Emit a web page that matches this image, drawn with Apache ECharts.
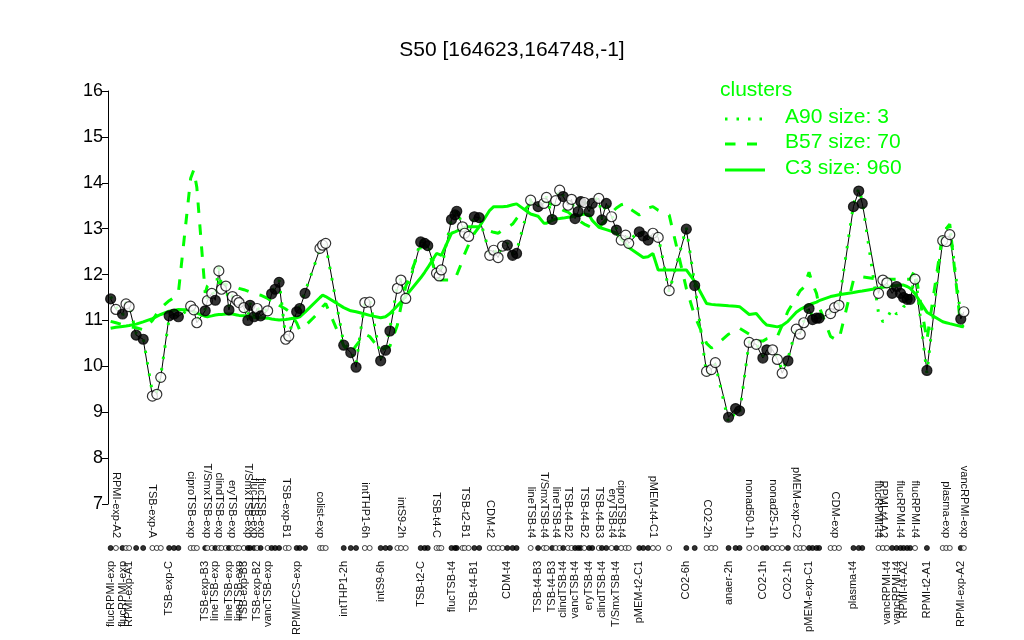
<!DOCTYPE html>
<html><head><meta charset="utf-8">
<script src="https://cdn.jsdelivr.net/npm/echarts@6/dist/echarts.min.js"></script>
<style>html,body{margin:0;padding:0;background:#fff}#c{width:1024px;height:640px}</style>
</head><body><div id="c"></div>
<script>
// sample positions along the x axis (slot units, with gaps between groups)
const pos = [0.6,1.8,3.3,4.1,4.8,6.4,8.0,10.1,11.1,12.0,
13.9,15.0,16.0,18.8,19.5,20.2,22.1,22.6,23.6,24.4,
25.2,25.8,26.8,27.5,28.3,29.3,29.8,30.9,31.8,32.3,
33.2,33.9,34.7,36.3,37.2,38.0,38.9,40.4,41.1,42.9,
43.6,44.8,48.2,48.8,49.5,53.6,55.2,56.4,58.4,59.5,
62.0,63.1,64.1,65.8,66.6,67.7,71.1,72.0,72.7,74.7,
75.3,75.8,78.1,78.9,79.3,80.6,81.1,82.0,83.3,84.4,
86.8,87.7,88.7,89.7,90.8,92.0,92.9,96.1,97.8,99.1,
99.7,101.0,101.8,102.7,103.5,104.6,105.4,106.2,106.9,107.5,
108.3,109.4,110.1,111.6,112.3,113.3,114.5,115.6,116.7,117.7,
118.4,120.8,121.7,122.8,123.9,125.1,127.6,131.5,133.4,136.1,
137.2,138.1,141.1,142.7,143.6,145.8,147.4,148.9,149.8,151.1,
152.2,153.3,154.6,156.5,157.4,158.2,159.4,160.2,161.1,161.7,
164.3,165.2,166.2,169.5,170.7,171.5,175.2,176.2,177.1,178.3,
179.3,180.2,180.9,181.7,182.4,183.5,186.2,189.8,190.6,191.4,
193.9,194.6];

// expression profile of this probe
const expr = [11.47,11.24,11.14,11.36,11.30,10.68,10.59,9.35,9.39,9.76,
11.10,11.14,11.08,11.31,11.23,10.95,11.21,11.43,11.59,11.44,
12.08,11.68,11.75,11.23,11.52,11.44,11.39,11.28,11.00,11.33,
11.08,11.26,11.10,11.21,11.58,11.68,11.83,10.59,10.66,11.19,
11.26,11.59,12.57,12.64,12.68,10.46,10.30,9.98,11.39,11.40,
10.12,10.35,10.77,11.70,11.88,11.48,12.71,12.68,12.63,12.03,
11.97,12.10,13.20,13.30,13.38,13.04,12.90,12.83,13.26,13.24,
12.42,12.53,12.37,12.62,12.64,12.42,12.46,13.62,13.48,13.55,
13.68,13.20,13.61,13.84,13.70,13.51,13.64,13.22,13.37,13.59,
13.57,13.37,13.55,13.66,13.19,13.55,13.26,12.97,12.75,12.86,
12.68,12.93,12.84,12.75,12.90,12.81,11.65,12.99,11.76,9.89,
9.93,10.08,8.89,9.08,9.03,10.52,10.48,10.18,10.36,10.36,
10.15,9.85,10.12,10.81,10.70,10.95,11.26,11.02,11.05,11.05,
11.15,11.28,11.33,13.48,13.82,13.55,11.59,11.88,11.82,11.59,
11.74,11.59,11.50,11.46,11.46,11.90,9.91,12.74,12.72,12.87,
11.03,11.19];

// 1 = filled marker, 0 = open marker
const filled = [1,0,1,0,0,1,1,0,0,0,
1,1,1,0,0,0,1,0,0,1,
0,0,0,1,0,0,0,0,1,1,
1,0,1,0,1,1,1,0,0,1,
1,1,0,0,0,1,1,1,0,0,
1,1,1,0,0,0,1,1,1,0,
0,0,1,1,1,0,0,0,1,1,
0,0,0,0,1,1,1,0,1,0,
0,1,0,0,1,0,0,1,1,1,
0,1,1,0,1,1,0,1,0,0,
0,1,1,1,0,0,0,1,1,0,
0,0,1,1,1,0,0,1,1,0,
0,0,1,0,0,0,1,1,1,1,
0,0,0,1,1,1,0,0,0,1,
1,1,1,1,1,0,1,0,0,0,
1,0];

// cluster mean profiles
const a90 = [11.52,11.30,11.10,11.40,11.35,10.72,10.62,9.42,9.45,9.80,
11.05,11.12,11.10,11.25,11.20,11.00,11.25,11.50,11.65,11.50,
12.25,11.72,11.80,11.30,11.55,11.48,11.42,11.32,11.05,11.38,
11.12,11.30,11.15,11.25,11.62,11.72,11.88,10.62,10.70,11.22,
11.30,11.62,12.55,12.60,12.65,10.50,10.35,10.05,11.42,11.45,
10.18,10.40,10.82,11.75,11.92,11.52,12.75,12.70,12.65,12.08,
12.00,12.12,13.22,13.32,13.40,13.08,12.95,12.86,13.28,13.26,
12.45,12.56,12.40,12.65,12.68,12.46,12.50,13.65,13.52,13.58,
13.70,13.25,13.64,13.86,13.72,13.55,13.66,13.26,13.40,13.62,
13.60,13.40,13.58,13.68,13.22,13.58,13.30,13.00,12.78,12.90,
12.72,12.96,12.88,12.78,12.94,12.85,11.62,13.02,11.80,9.82,
9.88,10.05,8.78,9.00,8.96,10.55,10.50,10.22,10.40,10.40,
10.20,9.90,10.16,10.85,10.74,10.98,11.30,11.06,11.08,11.08,
11.20,11.32,11.38,13.52,13.88,13.60,11.16,10.97,11.05,11.25,
11.14,11.20,11.30,11.35,11.40,12.05,9.85,12.95,13.00,13.05,
11.08,11.22];

const b57 = [10.98,10.95,10.91,10.90,10.87,10.84,10.80,11.00,11.15,11.27,
11.43,11.50,11.60,14.10,14.28,13.90,11.60,11.75,11.85,11.84,
11.82,11.80,11.78,11.76,11.74,11.72,11.70,11.67,11.64,11.62,
11.60,11.57,11.55,11.48,11.43,11.39,11.33,11.25,11.20,10.95,
10.79,10.88,11.20,11.30,11.37,10.45,10.28,10.45,10.70,10.65,
10.35,10.40,10.44,10.90,11.30,11.74,12.60,12.65,12.60,11.95,
11.90,11.88,11.88,11.90,11.92,12.30,12.45,12.65,12.90,13.04,
12.95,12.92,12.90,12.97,13.03,13.10,13.22,13.55,13.66,13.60,
13.58,13.52,13.49,13.45,13.40,13.36,13.30,13.25,13.20,13.15,
13.10,13.05,13.02,13.00,13.10,13.20,13.35,13.45,13.52,13.55,
13.45,13.30,13.35,13.45,13.48,13.40,13.30,11.70,11.10,10.50,
10.40,10.45,10.70,10.78,10.83,10.70,10.55,10.55,10.60,10.63,
10.65,10.90,11.20,11.50,11.65,11.72,12.05,11.80,11.59,11.30,
10.65,10.60,10.58,11.88,11.95,11.95,11.90,11.90,11.90,11.90,
11.90,11.90,11.90,11.90,11.90,12.10,10.57,12.90,13.00,13.10,
10.86,10.90];

const c3 = [10.83,10.85,10.87,10.88,10.89,10.92,10.97,11.04,11.09,11.13,
11.20,11.22,11.24,11.23,11.19,11.16,11.09,11.08,11.10,11.12,
11.13,11.13,11.14,11.14,11.14,11.12,11.11,11.10,11.09,11.08,
11.07,11.06,11.06,11.05,11.03,11.02,11.01,11.02,11.03,11.06,
11.08,11.18,11.50,11.55,11.52,11.28,11.21,11.19,11.14,11.11,
11.06,11.08,11.15,11.32,11.40,11.53,11.93,12.05,12.15,12.46,
12.44,12.42,12.90,12.93,12.95,13.00,13.03,13.04,13.04,13.04,
13.40,13.48,13.48,13.48,13.49,13.52,13.54,13.32,13.27,13.12,
13.12,13.18,13.21,13.22,13.23,13.25,13.26,13.28,13.29,13.30,
13.32,13.30,13.18,13.03,13.01,12.98,12.94,12.90,12.77,12.67,
12.59,12.43,12.37,12.39,12.46,12.10,12.10,12.10,11.85,11.37,
11.35,11.34,11.32,11.31,11.30,11.13,11.15,10.98,10.90,10.88,
10.86,10.89,10.98,11.18,11.24,11.28,11.34,11.37,11.40,11.43,
11.52,11.54,11.56,11.61,11.63,11.64,11.70,11.72,11.74,11.75,
11.76,11.77,11.77,11.74,11.70,11.58,11.18,10.97,10.95,10.93,
10.87,10.86];

// sample labels (point number, name) drawn below / above the marker strip
const bottomLabels = [[1,'flucRPMI-exp'],[3,'flucRPMI-exp'],[5,'RPMI-exp-A1'],[11,'TSB-exp-C'],
[17,'TSB-exp-B3'],[20,'lineTSB-exp'],[24,'lineTSB-exp'],[27,'lineTSB-exp'],[28,'TSB-exp-B3'],
[32,'TSB-exp-B2'],[34,'vancTSB-exp'],[40,'RPMI/FCS-exp'],[46,'intTHP1-2h'],[51,'intS9-6h'],
[57,'TSB-t2-C'],[63,'flucTSB-t4'],[69,'TSB-t4-B1'],[75,'CDM-t4'],[79,'TSB-t4-B3'],[82,'TSB-t4-B3'],
[85,'clindTSB-t4'],[88,'vancTSB-t4'],[92,'eryTSB-t4'],[95,'clindTSB-t4'],[98,'T/SmxTSB-t4'],
[102,'pMEM-t2-C1'],[108,'CO2-6h'],[113,'anaer-2h'],[118,'CO2-1h'],[123,'CO2-1h'],[127,'pMEM-exp-C1'],
[134,'plasma-t4'],[139,'vancRPMI-t4'],[141,'vancRPMI-t4'],[143,'RPMI-t4-A2'],[147,'RPMI-t2-A1'],
[151,'RPMI-exp-A2']];
const topLabels = [[2,'RPMI-exp-A2'],[4,'vancRPMI-exp'],[8,'TSB-exp-A'],[14,'ciproTSB-exp'],
[18,'T/SmxTSB-exp'],[21,'clindTSB-exp'],[25,'eryTSB-exp'],[29,'T/SmxTSB-exp'],[31,'flucTSB-exp'],
[33,'flucTSB-exp'],[38,'TSB-exp-B1'],[43,'colist-exp'],[49,'intTHP1-6h'],[55,'intS9-2h'],
[60,'TSB-t4-C'],[67,'TSB-t2-B1'],[71,'CDM-t2'],[78,'lineTSB-t4'],[80,'T/SmxTSB-t4'],[83,'lineTSB-t4'],
[86,'TSB-t4-B2'],[91,'TSB-t4-B2'],[94,'TSB-t4-B3'],[97,'eryTSB-t4'],[99,'ciproTSB-t4'],
[105,'pMEM-t4-C1'],[110,'CO2-2h'],[116,'nonad50-1h'],[120,'nonad25-1h'],[124,'pMEM-exp-C2'],
[132,'CDM-exp'],[137,'flucRPMI-t4'],[138,'RPMI-t4-A2'],[142,'flucRPMI-t4'],[146,'flucRPMI-t4'],
[149,'plasma-exp'],[152,'vancRPMI-exp']];

const yTicks = [7,8,9,10,11,12,13,14,15,16];
const titleText = 'S50 [164623,164748,-1]';
const legendTitle = 'clusters';
const clusterNames = ['A90 size: 3','B57 size: 70','C3 size: 960'];

const GREEN = '#00ff00';
const FONT = 'Liberation Sans, Arial, Helvetica, sans-serif';
const XMAX = 196;

function labelAxis(list, position) {
  const vals = list.map(d => pos[d[0]-1]);
  const m = new Map(list.map(d => [String(pos[d[0]-1]), d[1]]));
  return {
    gridIndex: 1, type: 'value', min: 0, max: XMAX, position: position,
    axisLine: {show: false}, axisTick: {show: false}, splitLine: {show: false},
    axisLabel: {customValues: vals, formatter: v => m.get(String(v)) || '', rotate: 90,
      fontSize: 11, fontFamily: FONT, color: '#111', margin: position === 'bottom' ? 10 : 7,
      hideOverlap: false, showMinLabel: true, showMaxLabel: true}
  };
}

const pts = pos.map((p, i) => ({value: [p, expr[i]],
  itemStyle: {color: filled[i] ? '#000' : '#fff', borderColor: '#000', borderWidth: 1.2}}));
const strip = pos.map((p, i) => ({value: [p, 0],
  itemStyle: {color: filled[i] ? '#000' : '#fff', borderColor: '#000', borderWidth: 0.9}}));

const chart = echarts.init(document.getElementById('c'), null, {renderer: 'canvas'});
chart.setOption({
  animation: false,
  backgroundColor: '#fff',
  title: {text: titleText, left: 'center', top: 35,
    textStyle: {fontFamily: FONT, fontSize: 21, fontWeight: 'normal', color: '#000'}},
  grid: [{left: 108, right: 54, top: 91, height: 413}, {left: 108, right: 54, top: 545, height: 6}],
  xAxis: [
    {gridIndex: 0, type: 'value', min: 0, max: XMAX, show: false},
    labelAxis(bottomLabels, 'bottom'),
    labelAxis(topLabels, 'top')
  ],
  yAxis: [
    {gridIndex: 0, type: 'value', min: yTicks[0], max: yTicks[yTicks.length-1], interval: 1,
      axisLine: {show: true, lineStyle: {color: '#000', width: 1}},
      axisTick: {show: true, length: 6, lineStyle: {color: '#000'}},
      splitLine: {show: false},
      axisLabel: {fontSize: 18, fontFamily: FONT, color: '#000', margin: 5}},
    {gridIndex: 1, type: 'value', min: -1, max: 1, show: false}
  ],
  series: [
    {type: 'line', name: 'profile', xAxisIndex: 0, yAxisIndex: 0, z: 1, symbol: 'none',
      data: pos.map((p, i) => [p, expr[i]]), lineStyle: {color: '#000', width: 1}},
    {type: 'line', name: clusterNames[0], z: 2, symbol: 'none',
      data: pos.map((p, i) => [p, a90[i]]), lineStyle: {color: GREEN, width: 3, type: [2.5, 9]}},
    {type: 'line', name: clusterNames[1], z: 2, symbol: 'none',
      data: pos.map((p, i) => [p, b57[i]]), lineStyle: {color: GREEN, width: 3, type: [10.5, 11.5]}},
    {type: 'line', name: clusterNames[2], z: 2, symbol: 'none',
      data: pos.map((p, i) => [p, c3[i]]), lineStyle: {color: GREEN, width: 3}},
    {type: 'scatter', z: 3, symbol: 'circle', symbolSize: 10, data: pts},
    {type: 'scatter', xAxisIndex: 1, yAxisIndex: 1, z: 3, symbol: 'circle', symbolSize: 5, data: strip}
  ],
  graphic: [
    {type: 'text', left: 720, top: 80, style: {text: legendTitle, fill: GREEN, font: '21px ' + FONT}},
    {type: 'line', shape: {x1: 725, y1: 119, x2: 765, y2: 119}, style: {stroke: GREEN, lineWidth: 3, lineDash: [2.5, 9]}},
    {type: 'text', left: 785, top: 107, style: {text: clusterNames[0], fill: GREEN, font: '21px ' + FONT}},
    {type: 'line', shape: {x1: 725, y1: 144, x2: 757, y2: 144}, style: {stroke: GREEN, lineWidth: 3, lineDash: [10.5, 11.5]}},
    {type: 'text', left: 785, top: 132, style: {text: clusterNames[1], fill: GREEN, font: '21px ' + FONT}},
    {type: 'line', shape: {x1: 725, y1: 170, x2: 765, y2: 170}, style: {stroke: GREEN, lineWidth: 3}},
    {type: 'text', left: 785, top: 158, style: {text: clusterNames[2], fill: GREEN, font: '21px ' + FONT}}
  ]
});
</script>
</body></html>
